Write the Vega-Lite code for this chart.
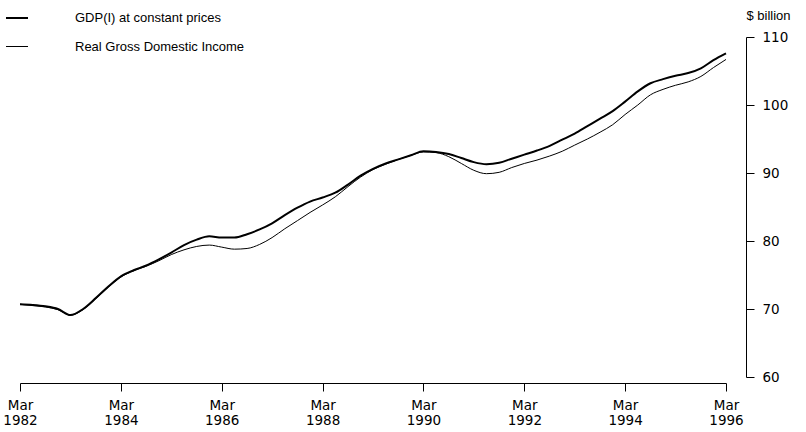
{
  "$schema": "https://vega.github.io/schema/vega-lite/v6.json",
  "width": 706,
  "height": 340,
  "autosize": "none",
  "padding": {"left": 20, "top": 37, "right": 80, "bottom": 55},
  "background": "white",
  "data": {"values": [
    {"date": "1982-03-01", "GDP(I) at constant prices": 70.7, "Real Gross Domestic Income": 70.7},
    {"date": "1982-06-01", "GDP(I) at constant prices": 70.6, "Real Gross Domestic Income": 70.5},
    {"date": "1982-09-01", "GDP(I) at constant prices": 70.4, "Real Gross Domestic Income": 70.3},
    {"date": "1982-12-01", "GDP(I) at constant prices": 70.0, "Real Gross Domestic Income": 69.9},
    {"date": "1983-03-01", "GDP(I) at constant prices": 69.1, "Real Gross Domestic Income": 69.1},
    {"date": "1983-06-01", "GDP(I) at constant prices": 70.0, "Real Gross Domestic Income": 69.9},
    {"date": "1983-09-01", "GDP(I) at constant prices": 71.6, "Real Gross Domestic Income": 71.5},
    {"date": "1983-12-01", "GDP(I) at constant prices": 73.3, "Real Gross Domestic Income": 73.2},
    {"date": "1984-03-01", "GDP(I) at constant prices": 74.8, "Real Gross Domestic Income": 74.7},
    {"date": "1984-06-01", "GDP(I) at constant prices": 75.7, "Real Gross Domestic Income": 75.6},
    {"date": "1984-09-01", "GDP(I) at constant prices": 76.4, "Real Gross Domestic Income": 76.3},
    {"date": "1984-12-01", "GDP(I) at constant prices": 77.3, "Real Gross Domestic Income": 77.1},
    {"date": "1985-03-01", "GDP(I) at constant prices": 78.3, "Real Gross Domestic Income": 78.0},
    {"date": "1985-06-01", "GDP(I) at constant prices": 79.4, "Real Gross Domestic Income": 78.7},
    {"date": "1985-09-01", "GDP(I) at constant prices": 80.2, "Real Gross Domestic Income": 79.2},
    {"date": "1985-12-01", "GDP(I) at constant prices": 80.7, "Real Gross Domestic Income": 79.4},
    {"date": "1986-03-01", "GDP(I) at constant prices": 80.5, "Real Gross Domestic Income": 79.1},
    {"date": "1986-06-01", "GDP(I) at constant prices": 80.5, "Real Gross Domestic Income": 78.8},
    {"date": "1986-09-01", "GDP(I) at constant prices": 81.0, "Real Gross Domestic Income": 78.9},
    {"date": "1986-12-01", "GDP(I) at constant prices": 81.7, "Real Gross Domestic Income": 79.5},
    {"date": "1987-03-01", "GDP(I) at constant prices": 82.6, "Real Gross Domestic Income": 80.5},
    {"date": "1987-06-01", "GDP(I) at constant prices": 83.8, "Real Gross Domestic Income": 81.8},
    {"date": "1987-09-01", "GDP(I) at constant prices": 84.9, "Real Gross Domestic Income": 83.0},
    {"date": "1987-12-01", "GDP(I) at constant prices": 85.8, "Real Gross Domestic Income": 84.2},
    {"date": "1988-03-01", "GDP(I) at constant prices": 86.4, "Real Gross Domestic Income": 85.3},
    {"date": "1988-06-01", "GDP(I) at constant prices": 87.1, "Real Gross Domestic Income": 86.5},
    {"date": "1988-09-01", "GDP(I) at constant prices": 88.3, "Real Gross Domestic Income": 88.0},
    {"date": "1988-12-01", "GDP(I) at constant prices": 89.6, "Real Gross Domestic Income": 89.4},
    {"date": "1989-03-01", "GDP(I) at constant prices": 90.6, "Real Gross Domestic Income": 90.5},
    {"date": "1989-06-01", "GDP(I) at constant prices": 91.4, "Real Gross Domestic Income": 91.3},
    {"date": "1989-09-01", "GDP(I) at constant prices": 92.0, "Real Gross Domestic Income": 92.0},
    {"date": "1989-12-01", "GDP(I) at constant prices": 92.6, "Real Gross Domestic Income": 92.6},
    {"date": "1990-03-01", "GDP(I) at constant prices": 93.2, "Real Gross Domestic Income": 93.1},
    {"date": "1990-06-01", "GDP(I) at constant prices": 93.1, "Real Gross Domestic Income": 93.0},
    {"date": "1990-09-01", "GDP(I) at constant prices": 92.8, "Real Gross Domestic Income": 92.4},
    {"date": "1990-12-01", "GDP(I) at constant prices": 92.2, "Real Gross Domestic Income": 91.4},
    {"date": "1991-03-01", "GDP(I) at constant prices": 91.6, "Real Gross Domestic Income": 90.4},
    {"date": "1991-06-01", "GDP(I) at constant prices": 91.3, "Real Gross Domestic Income": 89.9},
    {"date": "1991-09-01", "GDP(I) at constant prices": 91.5, "Real Gross Domestic Income": 90.1},
    {"date": "1991-12-01", "GDP(I) at constant prices": 92.1, "Real Gross Domestic Income": 90.8},
    {"date": "1992-03-01", "GDP(I) at constant prices": 92.7, "Real Gross Domestic Income": 91.4},
    {"date": "1992-06-01", "GDP(I) at constant prices": 93.3, "Real Gross Domestic Income": 91.9},
    {"date": "1992-09-01", "GDP(I) at constant prices": 94.0, "Real Gross Domestic Income": 92.5},
    {"date": "1992-12-01", "GDP(I) at constant prices": 94.9, "Real Gross Domestic Income": 93.2},
    {"date": "1993-03-01", "GDP(I) at constant prices": 95.8, "Real Gross Domestic Income": 94.1},
    {"date": "1993-06-01", "GDP(I) at constant prices": 96.9, "Real Gross Domestic Income": 95.0},
    {"date": "1993-09-01", "GDP(I) at constant prices": 98.0, "Real Gross Domestic Income": 96.0},
    {"date": "1993-12-01", "GDP(I) at constant prices": 99.1, "Real Gross Domestic Income": 97.1},
    {"date": "1994-03-01", "GDP(I) at constant prices": 100.5, "Real Gross Domestic Income": 98.6},
    {"date": "1994-06-01", "GDP(I) at constant prices": 102.0, "Real Gross Domestic Income": 100.0},
    {"date": "1994-09-01", "GDP(I) at constant prices": 103.2, "Real Gross Domestic Income": 101.5},
    {"date": "1994-12-01", "GDP(I) at constant prices": 103.8, "Real Gross Domestic Income": 102.3},
    {"date": "1995-03-01", "GDP(I) at constant prices": 104.3, "Real Gross Domestic Income": 102.9},
    {"date": "1995-06-01", "GDP(I) at constant prices": 104.7, "Real Gross Domestic Income": 103.4},
    {"date": "1995-09-01", "GDP(I) at constant prices": 105.4, "Real Gross Domestic Income": 104.2},
    {"date": "1995-12-01", "GDP(I) at constant prices": 106.6, "Real Gross Domestic Income": 105.5},
    {"date": "1996-03-01", "GDP(I) at constant prices": 107.6, "Real Gross Domestic Income": 106.7}
  ]},
  "transform": [
    {"fold": ["GDP(I) at constant prices", "Real Gross Domestic Income"], "as": ["series", "value"]}
  ],
  "mark": {"type": "line", "interpolate": "monotone"},
  "encoding": {
    "x": {
      "field": "date",
      "type": "temporal",
      "scale": {"type": "utc", "domain": [{"year": 1982, "month": 3, "date": 1, "utc": true}, {"year": 1996, "month": 3, "date": 1, "utc": true}]},
      "axis": {
        "title": null,
        "orient": "bottom",
        "offset": 6,
        "grid": false,
        "values": [
          {"year": 1982, "month": 3, "date": 1, "utc": true},
          {"year": 1984, "month": 3, "date": 1, "utc": true},
          {"year": 1986, "month": 3, "date": 1, "utc": true},
          {"year": 1988, "month": 3, "date": 1, "utc": true},
          {"year": 1990, "month": 3, "date": 1, "utc": true},
          {"year": 1992, "month": 3, "date": 1, "utc": true},
          {"year": 1994, "month": 3, "date": 1, "utc": true},
          {"year": 1996, "month": 3, "date": 1, "utc": true}
        ],
        "labelExpr": "['Mar', utcFormat(datum.value, '%Y')]",
        "labelFont": "DejaVu Sans",
        "labelFontSize": 13.5,
        "labelLineHeight": 15,
        "labelColor": "black",
        "labelPadding": 7,
        "labelFlush": false,
        "labelOverlap": false,
        "domainColor": "black",
        "tickColor": "black",
        "tickSize": 8
      }
    },
    "y": {
      "field": "value",
      "type": "quantitative",
      "scale": {"domain": [60, 110], "nice": false, "zero": false},
      "axis": {
        "orient": "right",
        "offset": 20,
        "grid": false,
        "values": [60, 70, 80, 90, 100, 110],
        "title": "$ billion",
        "titleAngle": 0,
        "titleX": 0,
        "titleY": -22,
        "titleAlign": "left",
        "titleBaseline": "middle",
        "titleFont": "Liberation Sans",
        "titleFontSize": 13,
        "titleFontWeight": "normal",
        "titleColor": "black",
        "labelFont": "DejaVu Sans",
        "labelFontSize": 13.5,
        "labelColor": "black",
        "labelPadding": 8,
        "domainColor": "black",
        "tickColor": "black",
        "tickSize": 8
      }
    },
    "color": {
      "field": "series",
      "type": "nominal",
      "scale": {"domain": ["GDP(I) at constant prices", "Real Gross Domestic Income"], "range": ["black", "black"]},
      "legend": {"title": null}
    },
    "strokeWidth": {
      "field": "series",
      "type": "nominal",
      "scale": {"domain": ["GDP(I) at constant prices", "Real Gross Domestic Income"], "range": [2, 1]},
      "legend": {"title": null}
    }
  },
  "config": {
    "view": {"stroke": null},
    "legend": {
      "orient": "none",
      "legendX": -15,
      "legendY": -31,
      "padding": 0,
      "symbolType": "stroke",
      "symbolSize": 484,
      "symbolStrokeColor": "black",
      "labelOffset": 46,
      "rowPadding": 10,
      "labelFont": "Liberation Sans",
      "labelFontSize": 13,
      "labelColor": "black",
      "labelLimit": 400
    }
  }
}
